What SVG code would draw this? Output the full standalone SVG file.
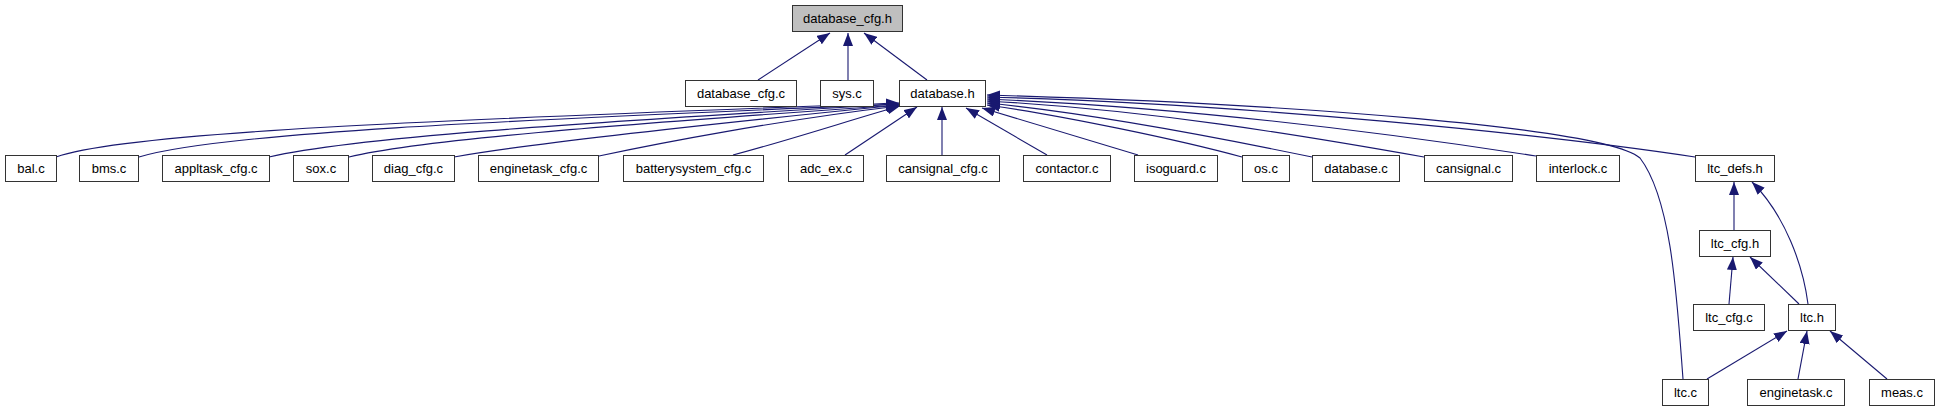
<svg xmlns="http://www.w3.org/2000/svg" width="1939" height="411" viewBox="0 0 1939 411">
<style>
.n rect{fill:#ffffff;stroke:#333333;stroke-width:1}
.n.root rect{fill:#bfbfbf}
.n text{font-family:"Liberation Sans",Arial,sans-serif;font-size:13px;fill:#000000;text-anchor:middle}
#edges path{fill:none;stroke:#191970;stroke-width:1.1;marker-end:url(#ah)}
</style>
<defs>
<marker id="ah" markerUnits="userSpaceOnUse" viewBox="0 0 13 10" markerWidth="13" markerHeight="10" refX="13" refY="5" orient="auto">
<path d="M0,0 L13,5 L0,10 z" fill="#191970"/>
</marker>
</defs>
<rect width="1939" height="411" fill="#ffffff"/>
<g id="edges">
<path d="M758,80 L830,33"/>
<path d="M848,80 L848,33"/>
<path d="M927,80 L864,33"/>
<path d="M56,157 C130,130 500,118 899,103"/>
<path d="M139,157 C220,132 520,120 899,104"/>
<path d="M269,157 C350,138 560,124 899,104"/>
<path d="M349,157 C420,140 600,126 899,105"/>
<path d="M454,157 C520,145 700,125 899,105"/>
<path d="M599,156 C660,143 780,120 899,106"/>
<path d="M733,155 C790,140 860,117 900,106"/>
<path d="M845,155 L917,107"/>
<path d="M942,155 L942,107"/>
<path d="M1047,155 L966,108"/>
<path d="M1138,155 L982,108"/>
<path d="M1242,157 C1180,140 1060,115 987,105"/>
<path d="M1312,157 C1230,140 1100,114 987,103"/>
<path d="M1424,157 C1300,135 1150,110 987,101"/>
<path d="M1536,156 C1400,135 1200,108 987,99"/>
<path d="M1695,157 C1550,135 1250,104 987,97"/>
<path d="M1683,379 C1677,300 1672,200 1640,158 C1605,128 1300,104 987,95"/>
<path d="M1734,230 L1734,182"/>
<path d="M1808,304 C1803,265 1785,215 1752,182"/>
<path d="M1729,304 L1733,257"/>
<path d="M1799,304 L1750,257"/>
<path d="M1707,379 L1787,331"/>
<path d="M1798,379 L1807,331"/>
<path d="M1887,379 L1830,331"/>
</g>
<g id="database_cfg_h" class="n root"><rect x="792.5" y="5.5" width="110" height="26"/><text x="847.5" y="23">database_cfg.h</text></g>
<g id="database_cfg_c" class="n"><rect x="685.5" y="80.5" width="111" height="26"/><text x="741" y="98">database_cfg.c</text></g>
<g id="sys_c" class="n"><rect x="820.5" y="80.5" width="53" height="26"/><text x="847" y="98">sys.c</text></g>
<g id="database_h" class="n"><rect x="899.5" y="80.5" width="86" height="26"/><text x="942.5" y="98">database.h</text></g>
<g id="bal_c" class="n"><rect x="5.5" y="155.5" width="51" height="26"/><text x="31" y="173">bal.c</text></g>
<g id="bms_c" class="n"><rect x="79.5" y="155.5" width="59" height="26"/><text x="109" y="173">bms.c</text></g>
<g id="appltask_cfg_c" class="n"><rect x="162.5" y="155.5" width="107" height="26"/><text x="216" y="173">appltask_cfg.c</text></g>
<g id="sox_c" class="n"><rect x="293.5" y="155.5" width="55" height="26"/><text x="321" y="173">sox.c</text></g>
<g id="diag_cfg_c" class="n"><rect x="372.5" y="155.5" width="82" height="26"/><text x="413.5" y="173">diag_cfg.c</text></g>
<g id="enginetask_cfg_c" class="n"><rect x="478.5" y="155.5" width="120" height="26"/><text x="538.5" y="173">enginetask_cfg.c</text></g>
<g id="batterysystem_cfg_c" class="n"><rect x="623.5" y="155.5" width="140" height="26"/><text x="693.5" y="173">batterysystem_cfg.c</text></g>
<g id="adc_ex_c" class="n"><rect x="788.5" y="155.5" width="75" height="26"/><text x="826" y="173">adc_ex.c</text></g>
<g id="cansignal_cfg_c" class="n"><rect x="886.5" y="155.5" width="113" height="26"/><text x="943" y="173">cansignal_cfg.c</text></g>
<g id="contactor_c" class="n"><rect x="1023.5" y="155.5" width="87" height="26"/><text x="1067" y="173">contactor.c</text></g>
<g id="isoguard_c" class="n"><rect x="1134.5" y="155.5" width="83" height="26"/><text x="1176" y="173">isoguard.c</text></g>
<g id="os_c" class="n"><rect x="1242.5" y="155.5" width="47" height="26"/><text x="1266" y="173">os.c</text></g>
<g id="database_c" class="n"><rect x="1312.5" y="155.5" width="87" height="26"/><text x="1356" y="173">database.c</text></g>
<g id="cansignal_c" class="n"><rect x="1424.5" y="155.5" width="88" height="26"/><text x="1468.5" y="173">cansignal.c</text></g>
<g id="interlock_c" class="n"><rect x="1536.5" y="155.5" width="83" height="26"/><text x="1578" y="173">interlock.c</text></g>
<g id="ltc_defs_h" class="n"><rect x="1695.5" y="155.5" width="79" height="26"/><text x="1735" y="173">ltc_defs.h</text></g>
<g id="ltc_cfg_h" class="n"><rect x="1699.5" y="230.5" width="71" height="26"/><text x="1735" y="248">ltc_cfg.h</text></g>
<g id="ltc_cfg_c" class="n"><rect x="1693.5" y="304.5" width="71" height="26"/><text x="1729" y="322">ltc_cfg.c</text></g>
<g id="ltc_h" class="n"><rect x="1788.5" y="304.5" width="47" height="26"/><text x="1812" y="322">ltc.h</text></g>
<g id="ltc_c" class="n"><rect x="1662.5" y="379.5" width="46" height="26"/><text x="1685.5" y="397">ltc.c</text></g>
<g id="enginetask_c" class="n"><rect x="1747.5" y="379.5" width="97" height="26"/><text x="1796" y="397">enginetask.c</text></g>
<g id="meas_c" class="n"><rect x="1869.5" y="379.5" width="65" height="26"/><text x="1902" y="397">meas.c</text></g>
</svg>
